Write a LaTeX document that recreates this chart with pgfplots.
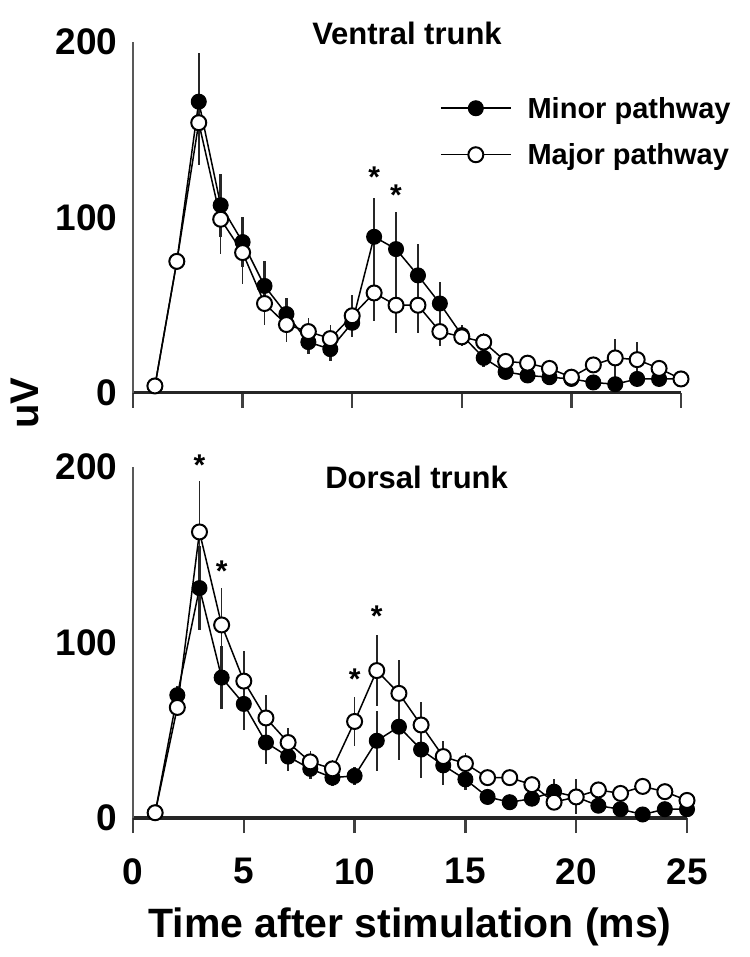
\documentclass[border=0pt]{standalone}
\usepackage{fontspec}
\setmainfont{Liberation Sans}
\usepackage{pgfplots}
\usepackage{pgfplotstable}
\pgfplotsset{compat=1.18}

% Ventral trunk
\pgfplotstableread{
x y e
1 4 1
2 75 4
3 166 28
4 107 18
5 86 14
6 61 14
7 45 9
8 29 7
9 25 7
10 40 6
11 89 22
12 82 21
13 67 18
14 51 12
15 33 6
16 20 5
17 12 4
18 10 3
19 9 3
20 8 3
21 6 3
22 5 3
23 8 3
24 8 3
25 8 2
}\ventralminor
\pgfplotstableread{
x y e
1 4 1
2 75 4
3 154 24
4 99 20
5 80 18
6 51 12
7 39 10
8 35 8
9 31 8
10 44 12
11 57 16
12 50 16
13 50 16
14 35 8
15 32 5
16 29 5
17 18 3
18 17 3
19 14 3
20 9 3
21 16 4
22 20 11
23 19 10
24 14 3
25 8 2
}\ventralmajor
% Dorsal trunk
\pgfplotstableread{
x y e
1 3 1
2 70 5
3 131 24
4 80 18
5 65 15
6 43 12
7 35 8
8 28 6
9 23 5
10 24 5
11 44 17
12 52 19
13 39 16
14 30 11
15 22 6
16 12 4
17 9 3
18 11 4
19 15 7
20 12 6
21 7 4
22 5 3
23 2 2
24 5 3
25 5 3
}\dorsalminor
\pgfplotstableread{
x y e
1 3 1
2 63 5
3 163 29
4 110 21
5 78 17
6 57 13
7 43 8
8 32 6
9 28 5
10 55 14
11 84 20
12 71 19
13 53 13
14 35 9
15 31 6
16 23 4
17 23 3
18 19 3
19 9 4
20 12 10
21 16 3
22 14 3
23 18 3
24 15 3
25 10 3
}\dorsalmajor

\pgfplotsset{
  panel/.style={
    scale only axis, height=351bp,
    xmin=0, xmax=25, ymin=0, ymax=200,
    axis x line=bottom, axis y line=left, axis line style={-},
    xtick={0,5,...,25}, ytick={0,100,200},
    tick align=outside, major tick length=15bp,
    ytick style={draw=none},
    x tick style={line width=2.5bp, black!75},
    x axis line style={line width=3bp, black!85},
    y axis line style={line width=2bp, black!65},
    tick label style={font=\bfseries\fontsize{37bp}{40bp}\selectfont},
    xticklabel style={yshift=-22bp},
    yticklabel style={xshift=3bp},
    /pgf/number format/assume math mode=true,
    clip=false,
  },
  minorser/.style={black, line width=1.5bp, mark=*, mark size=7.5bp,
    mark options={fill=black, draw=black, line width=1bp},
    error bars/y dir=both, error bars/y explicit,
    error bars/error bar style={line width=2.5bp, black!85},
    error bars/error mark=none},
  majorser/.style={black, line width=1.5bp, mark=*, mark size=7.5bp,
    mark options={fill=white, draw=black, line width=2bp},
    error bars/y dir=both, error bars/y explicit,
    error bars/error bar style={line width=1.5bp, black!85},
    error bars/error mark=none},
}
\tikzset{
  sigstar/.style={font=\bfseries\fontsize{30bp}{32bp}\selectfont, anchor=base, yshift=-14bp},
  ptitle/.style={font=\bfseries\fontsize{31bp}{36bp}\selectfont},
}

\begin{document}
\begin{tikzpicture}
\useasboundingbox (0,0) rectangle (750bp,957bp);

% Top panel
\begin{axis}[panel, width=548bp, at={(133bp,564bp)}, anchor=origin,
  xticklabels={},
  legend style={draw=none, fill=none, at={(axis cs:14,149)}, anchor=west,
    font=\bfseries\fontsize{29bp}{34bp}\selectfont, row sep=20bp, column sep=14bp,
    legend cell align=left, inner sep=0pt},
  legend image code/.code={\draw[mark repeat=2,mark phase=2,#1] plot coordinates {(0bp,0bp) (35bp,0bp) (70bp,0bp)};},
]
\addplot[minorser] table[x=x, y=y, y error=e] {\ventralminor};
\addlegendentry{Minor pathway}
\addplot[majorser] table[x=x, y=y, y error=e] {\ventralmajor};
\addlegendentry{Major pathway}
\node[ptitle] at (axis cs:12.5,205) {Ventral trunk};
\node[sigstar] at (axis cs:11,125) {*};
\node[sigstar] at (axis cs:12,115) {*};
\end{axis}

% Bottom panel
\begin{axis}[panel, width=554bp, at={(133bp,139bp)}, anchor=origin,
  xlabel={Time after stimulation (ms)},
  xlabel style={at={(axis description cs:0.5,0)}, anchor=base, yshift=-119bp,
    font=\bfseries\fontsize{41bp}{46bp}\selectfont},
]
\addplot[minorser] table[x=x, y=y, y error=e] {\dorsalminor};
\addplot[majorser] table[x=x, y=y, y error=e] {\dorsalmajor};
\node[ptitle] at (axis cs:12.8,194) {Dorsal trunk};
\node[sigstar] at (axis cs:3,203) {*};
\node[sigstar] at (axis cs:4,143) {*};
\node[sigstar] at (axis cs:10,81) {*};
\node[sigstar] at (axis cs:11,117) {*};
\end{axis}

\node[rotate=90, font=\bfseries\fontsize{40bp}{44bp}\selectfont] at (25bp,554bp) {uV};
\end{tikzpicture}
\end{document}
